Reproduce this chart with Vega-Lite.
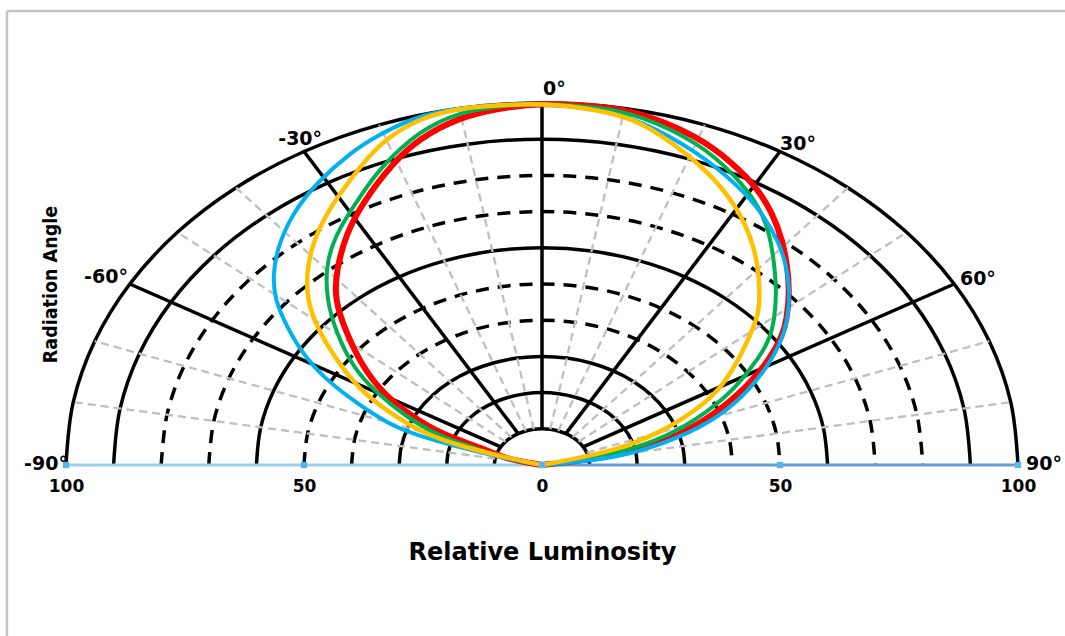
{
  "$schema": "https://vega.github.io/schema/vega-lite/v6.json",
  "width": 952,
  "height": 362,
  "autosize": {"type": "none"},
  "padding": {"left": 66, "top": 103, "right": 47, "bottom": 171},
  "background": "white",
  "config": {
    "view": {"stroke": null},
    "axis": {"grid": false, "domain": false, "ticks": false, "labelColor": "black", "titleColor": "black"},
    "axisX": {"labelFont": "DejaVu Sans", "labelFontWeight": "bold", "labelFontSize": 17, "labelPadding": 13, "labelFlush": false,
      "titleFont": "DejaVu Sans", "titleFontSize": 24, "titleFontWeight": "bold", "titlePadding": 46},
    "axisY": {"labels": false, "titleFont": "Liberation Sans Narrow, DejaVu Sans Condensed, sans-serif", "titleFontSize": 19.5, "titleFontWeight": "bold", "titlePadding": 6}
  },
  "datasets": {
    "gridSolid": [
      {"c":100,"k":0,"x":-100,"y":0},{"c":100,"k":1,"x":-98.48,"y":17.36},{"c":100,"k":2,"x":-93.97,"y":34.2},{"c":100,"k":3,"x":-86.6,"y":50},{"c":100,"k":4,"x":-76.6,"y":64.28},{"c":100,"k":5,"x":-64.28,"y":76.6},{"c":100,"k":6,"x":-50,"y":86.6},{"c":100,"k":7,"x":-34.2,"y":93.97},{"c":100,"k":8,"x":-17.36,"y":98.48},{"c":100,"k":9,"x":0,"y":100},{"c":100,"k":10,"x":17.36,"y":98.48},{"c":100,"k":11,"x":34.2,"y":93.97},{"c":100,"k":12,"x":50,"y":86.6},{"c":100,"k":13,"x":64.28,"y":76.6},{"c":100,"k":14,"x":76.6,"y":64.28},{"c":100,"k":15,"x":86.6,"y":50},{"c":100,"k":16,"x":93.97,"y":34.2},{"c":100,"k":17,"x":98.48,"y":17.36},{"c":100,"k":18,"x":100,"y":0},
      {"c":90,"k":0,"x":-90,"y":0},{"c":90,"k":1,"x":-88.63,"y":15.63},{"c":90,"k":2,"x":-84.57,"y":30.78},{"c":90,"k":3,"x":-77.94,"y":45},{"c":90,"k":4,"x":-68.94,"y":57.85},{"c":90,"k":5,"x":-57.85,"y":68.94},{"c":90,"k":6,"x":-45,"y":77.94},{"c":90,"k":7,"x":-30.78,"y":84.57},{"c":90,"k":8,"x":-15.63,"y":88.63},{"c":90,"k":9,"x":0,"y":90},{"c":90,"k":10,"x":15.63,"y":88.63},{"c":90,"k":11,"x":30.78,"y":84.57},{"c":90,"k":12,"x":45,"y":77.94},{"c":90,"k":13,"x":57.85,"y":68.94},{"c":90,"k":14,"x":68.94,"y":57.85},{"c":90,"k":15,"x":77.94,"y":45},{"c":90,"k":16,"x":84.57,"y":30.78},{"c":90,"k":17,"x":88.63,"y":15.63},{"c":90,"k":18,"x":90,"y":0},
      {"c":60,"k":0,"x":-60,"y":0},{"c":60,"k":1,"x":-59.09,"y":10.42},{"c":60,"k":2,"x":-56.38,"y":20.52},{"c":60,"k":3,"x":-51.96,"y":30},{"c":60,"k":4,"x":-45.96,"y":38.57},{"c":60,"k":5,"x":-38.57,"y":45.96},{"c":60,"k":6,"x":-30,"y":51.96},{"c":60,"k":7,"x":-20.52,"y":56.38},{"c":60,"k":8,"x":-10.42,"y":59.09},{"c":60,"k":9,"x":0,"y":60},{"c":60,"k":10,"x":10.42,"y":59.09},{"c":60,"k":11,"x":20.52,"y":56.38},{"c":60,"k":12,"x":30,"y":51.96},{"c":60,"k":13,"x":38.57,"y":45.96},{"c":60,"k":14,"x":45.96,"y":38.57},{"c":60,"k":15,"x":51.96,"y":30},{"c":60,"k":16,"x":56.38,"y":20.52},{"c":60,"k":17,"x":59.09,"y":10.42},{"c":60,"k":18,"x":60,"y":0},
      {"c":30,"k":0,"x":-30,"y":0},{"c":30,"k":1,"x":-29.54,"y":5.21},{"c":30,"k":2,"x":-28.19,"y":10.26},{"c":30,"k":3,"x":-25.98,"y":15},{"c":30,"k":4,"x":-22.98,"y":19.28},{"c":30,"k":5,"x":-19.28,"y":22.98},{"c":30,"k":6,"x":-15,"y":25.98},{"c":30,"k":7,"x":-10.26,"y":28.19},{"c":30,"k":8,"x":-5.21,"y":29.54},{"c":30,"k":9,"x":0,"y":30},{"c":30,"k":10,"x":5.21,"y":29.54},{"c":30,"k":11,"x":10.26,"y":28.19},{"c":30,"k":12,"x":15,"y":25.98},{"c":30,"k":13,"x":19.28,"y":22.98},{"c":30,"k":14,"x":22.98,"y":19.28},{"c":30,"k":15,"x":25.98,"y":15},{"c":30,"k":16,"x":28.19,"y":10.26},{"c":30,"k":17,"x":29.54,"y":5.21},{"c":30,"k":18,"x":30,"y":0},
      {"c":20,"k":0,"x":-20,"y":0},{"c":20,"k":1,"x":-19.7,"y":3.47},{"c":20,"k":2,"x":-18.79,"y":6.84},{"c":20,"k":3,"x":-17.32,"y":10},{"c":20,"k":4,"x":-15.32,"y":12.86},{"c":20,"k":5,"x":-12.86,"y":15.32},{"c":20,"k":6,"x":-10,"y":17.32},{"c":20,"k":7,"x":-6.84,"y":18.79},{"c":20,"k":8,"x":-3.47,"y":19.7},{"c":20,"k":9,"x":0,"y":20},{"c":20,"k":10,"x":3.47,"y":19.7},{"c":20,"k":11,"x":6.84,"y":18.79},{"c":20,"k":12,"x":10,"y":17.32},{"c":20,"k":13,"x":12.86,"y":15.32},{"c":20,"k":14,"x":15.32,"y":12.86},{"c":20,"k":15,"x":17.32,"y":10},{"c":20,"k":16,"x":18.79,"y":6.84},{"c":20,"k":17,"x":19.7,"y":3.47},{"c":20,"k":18,"x":20,"y":0},
      {"c":10,"k":0,"x":-10,"y":0},{"c":10,"k":1,"x":-9.85,"y":1.74},{"c":10,"k":2,"x":-9.4,"y":3.42},{"c":10,"k":3,"x":-8.66,"y":5},{"c":10,"k":4,"x":-7.66,"y":6.43},{"c":10,"k":5,"x":-6.43,"y":7.66},{"c":10,"k":6,"x":-5,"y":8.66},{"c":10,"k":7,"x":-3.42,"y":9.4},{"c":10,"k":8,"x":-1.74,"y":9.85},{"c":10,"k":9,"x":0,"y":10},{"c":10,"k":10,"x":1.74,"y":9.85},{"c":10,"k":11,"x":3.42,"y":9.4},{"c":10,"k":12,"x":5,"y":8.66},{"c":10,"k":13,"x":6.43,"y":7.66},{"c":10,"k":14,"x":7.66,"y":6.43},{"c":10,"k":15,"x":8.66,"y":5},{"c":10,"k":16,"x":9.4,"y":3.42},{"c":10,"k":17,"x":9.85,"y":1.74},{"c":10,"k":18,"x":10,"y":0}
    ],
    "gridDashed": [
      {"c":80,"k":0,"x":-80,"y":0},{"c":80,"k":1,"x":-78.78,"y":13.89},{"c":80,"k":2,"x":-75.18,"y":27.36},{"c":80,"k":3,"x":-69.28,"y":40},{"c":80,"k":4,"x":-61.28,"y":51.42},{"c":80,"k":5,"x":-51.42,"y":61.28},{"c":80,"k":6,"x":-40,"y":69.28},{"c":80,"k":7,"x":-27.36,"y":75.18},{"c":80,"k":8,"x":-13.89,"y":78.78},{"c":80,"k":9,"x":0,"y":80},{"c":80,"k":10,"x":13.89,"y":78.78},{"c":80,"k":11,"x":27.36,"y":75.18},{"c":80,"k":12,"x":40,"y":69.28},{"c":80,"k":13,"x":51.42,"y":61.28},{"c":80,"k":14,"x":61.28,"y":51.42},{"c":80,"k":15,"x":69.28,"y":40},{"c":80,"k":16,"x":75.18,"y":27.36},{"c":80,"k":17,"x":78.78,"y":13.89},{"c":80,"k":18,"x":80,"y":0},
      {"c":70,"k":0,"x":-70,"y":0},{"c":70,"k":1,"x":-68.94,"y":12.16},{"c":70,"k":2,"x":-65.78,"y":23.94},{"c":70,"k":3,"x":-60.62,"y":35},{"c":70,"k":4,"x":-53.62,"y":45},{"c":70,"k":5,"x":-45,"y":53.62},{"c":70,"k":6,"x":-35,"y":60.62},{"c":70,"k":7,"x":-23.94,"y":65.78},{"c":70,"k":8,"x":-12.16,"y":68.94},{"c":70,"k":9,"x":0,"y":70},{"c":70,"k":10,"x":12.16,"y":68.94},{"c":70,"k":11,"x":23.94,"y":65.78},{"c":70,"k":12,"x":35,"y":60.62},{"c":70,"k":13,"x":45,"y":53.62},{"c":70,"k":14,"x":53.62,"y":45},{"c":70,"k":15,"x":60.62,"y":35},{"c":70,"k":16,"x":65.78,"y":23.94},{"c":70,"k":17,"x":68.94,"y":12.16},{"c":70,"k":18,"x":70,"y":0},
      {"c":50,"k":0,"x":-50,"y":0},{"c":50,"k":1,"x":-49.24,"y":8.68},{"c":50,"k":2,"x":-46.98,"y":17.1},{"c":50,"k":3,"x":-43.3,"y":25},{"c":50,"k":4,"x":-38.3,"y":32.14},{"c":50,"k":5,"x":-32.14,"y":38.3},{"c":50,"k":6,"x":-25,"y":43.3},{"c":50,"k":7,"x":-17.1,"y":46.98},{"c":50,"k":8,"x":-8.68,"y":49.24},{"c":50,"k":9,"x":0,"y":50},{"c":50,"k":10,"x":8.68,"y":49.24},{"c":50,"k":11,"x":17.1,"y":46.98},{"c":50,"k":12,"x":25,"y":43.3},{"c":50,"k":13,"x":32.14,"y":38.3},{"c":50,"k":14,"x":38.3,"y":32.14},{"c":50,"k":15,"x":43.3,"y":25},{"c":50,"k":16,"x":46.98,"y":17.1},{"c":50,"k":17,"x":49.24,"y":8.68},{"c":50,"k":18,"x":50,"y":0},
      {"c":40,"k":0,"x":-40,"y":0},{"c":40,"k":1,"x":-39.39,"y":6.95},{"c":40,"k":2,"x":-37.59,"y":13.68},{"c":40,"k":3,"x":-34.64,"y":20},{"c":40,"k":4,"x":-30.64,"y":25.71},{"c":40,"k":5,"x":-25.71,"y":30.64},{"c":40,"k":6,"x":-20,"y":34.64},{"c":40,"k":7,"x":-13.68,"y":37.59},{"c":40,"k":8,"x":-6.95,"y":39.39},{"c":40,"k":9,"x":0,"y":40},{"c":40,"k":10,"x":6.95,"y":39.39},{"c":40,"k":11,"x":13.68,"y":37.59},{"c":40,"k":12,"x":20,"y":34.64},{"c":40,"k":13,"x":25.71,"y":30.64},{"c":40,"k":14,"x":30.64,"y":25.71},{"c":40,"k":15,"x":34.64,"y":20},{"c":40,"k":16,"x":37.59,"y":13.68},{"c":40,"k":17,"x":39.39,"y":6.95},{"c":40,"k":18,"x":40,"y":0}
    ],
    "spokesSolid": [
      {"a":-60,"x":-8.66,"y":5,"x2":-86.6,"y2":50},
      {"a":-30,"x":-5,"y":8.66,"x2":-50,"y2":86.6},
      {"a":0,"x":0,"y":10,"x2":0,"y2":100},
      {"a":30,"x":5,"y":8.66,"x2":50,"y2":86.6},
      {"a":60,"x":8.66,"y":5,"x2":86.6,"y2":50}
    ],
    "spokesGray": [
      {"a":-80,"x":-9.85,"y":1.74,"x2":-98.48,"y2":17.36},
      {"a":-70,"x":-9.4,"y":3.42,"x2":-93.97,"y2":34.2},
      {"a":-50,"x":-7.66,"y":6.43,"x2":-76.6,"y2":64.28},
      {"a":-40,"x":-6.43,"y":7.66,"x2":-64.28,"y2":76.6},
      {"a":-20,"x":-3.42,"y":9.4,"x2":-34.2,"y2":93.97},
      {"a":-10,"x":-1.74,"y":9.85,"x2":-17.36,"y2":98.48},
      {"a":10,"x":1.74,"y":9.85,"x2":17.36,"y2":98.48},
      {"a":20,"x":3.42,"y":9.4,"x2":34.2,"y2":93.97},
      {"a":40,"x":6.43,"y":7.66,"x2":64.28,"y2":76.6},
      {"a":50,"x":7.66,"y":6.43,"x2":76.6,"y2":64.28},
      {"a":70,"x":9.4,"y":3.42,"x2":93.97,"y2":34.2},
      {"a":80,"x":9.85,"y":1.74,"x2":98.48,"y2":17.36}
    ],
    "frame": [
      {"x":-112.4,"y":125.4,"x2":-112.4,"y2":-50},
      {"x":-112.4,"y":125.4,"x2":115,"y2":125.4}
    ],
    "baseline": [
      {"side":"left","x":-100,"x2":0,"y":0},
      {"side":"right","x":0,"x2":100,"y":0}
    ],
    "ticks": [
      {"x":-100,"y":0},{"x":-50,"y":0},{"x":0,"y":0},{"x":50,"y":0},{"x":100,"y":0}
    ],
    "labelsLeft": [
      {"t":"0°","x":0.2,"y":102.2},
      {"t":"30°","x":50,"y":87},
      {"t":"60°","x":87.8,"y":49.7},
      {"t":"90°","x":101.7,"y":-1.4}
    ],
    "labelsRight": [
      {"t":"-30°","x":-46.2,"y":88.4},
      {"t":"-60°","x":-87,"y":50.3},
      {"t":"-90°","x":-99.6,"y":-1.4}
    ],
    "red": [
      {"i":0,"x":0,"y":0},{"i":1,"x":-7.9,"y":1.7},{"i":2,"x":-12.5,"y":4.7},{"i":3,"x":-20.9,"y":8.3},{"i":4,"x":-27.8,"y":13.8},{"i":5,"x":-33.5,"y":19.9},{"i":6,"x":-37.7,"y":27.1},{"i":7,"x":-41.1,"y":36.5},{"i":8,"x":-43.6,"y":45.6},{"i":9,"x":-43.2,"y":53.9},{"i":10,"x":-41.1,"y":64.1},{"i":11,"x":-37.7,"y":72.4},{"i":12,"x":-31.4,"y":83.4},{"i":13,"x":-25.7,"y":90.3},{"i":14,"x":-17.3,"y":96.1},{"i":15,"x":-8.9,"y":98.6},{"i":16,"x":0,"y":100},{"i":17,"x":12.1,"y":99.2},{"i":18,"x":20.5,"y":97.5},{"i":19,"x":33.1,"y":90.6},{"i":20,"x":40.0,"y":83.4},{"i":21,"x":45.1,"y":76.8},{"i":22,"x":48.4,"y":69.6},{"i":23,"x":50.5,"y":62.2},{"i":24,"x":51.6,"y":54.7},{"i":25,"x":52.0,"y":47.5},{"i":26,"x":51.4,"y":40.1},{"i":27,"x":50.6,"y":36.0},{"i":28,"x":47.8,"y":29.0},{"i":29,"x":43.0,"y":21.5},{"i":30,"x":36.7,"y":14.4},{"i":31,"x":28.3,"y":7.7},{"i":32,"x":17.8,"y":3.3},{"i":33,"x":7.9,"y":1.1},{"i":34,"x":0,"y":0}
    ],
    "green": [
      {"i":0,"x":0,"y":0},{"i":1,"x":-7.9,"y":1.7},{"i":2,"x":-12.5,"y":4.1},{"i":3,"x":-21.5,"y":7.7},{"i":4,"x":-28.5,"y":13.3},{"i":5,"x":-34.8,"y":19.9},{"i":6,"x":-39.8,"y":27.1},{"i":7,"x":-43.2,"y":36.5},{"i":8,"x":-45.3,"y":45.6},{"i":9,"x":-45.4,"y":56.6},{"i":10,"x":-42.5,"y":65.7},{"i":11,"x":-38.3,"y":74.0},{"i":12,"x":-34.1,"y":82.0},{"i":13,"x":-25.7,"y":92.5},{"i":14,"x":-17.3,"y":97.5},{"i":15,"x":-8.9,"y":99.2},{"i":16,"x":0,"y":100},{"i":17,"x":12.1,"y":98.9},{"i":18,"x":20.5,"y":96.7},{"i":19,"x":33.1,"y":89.0},{"i":20,"x":40.9,"y":79.6},{"i":21,"x":45.7,"y":71.3},{"i":22,"x":47.8,"y":64.1},{"i":23,"x":48.8,"y":55.8},{"i":24,"x":49.3,"y":47.5},{"i":25,"x":48.8,"y":40.1},{"i":26,"x":47.9,"y":35.0},{"i":27,"x":45.7,"y":29.8},{"i":28,"x":40.9,"y":21.5},{"i":29,"x":34.6,"y":14.4},{"i":30,"x":26.2,"y":7.7},{"i":31,"x":16.9,"y":3.6},{"i":32,"x":7.9,"y":1.1},{"i":33,"x":0,"y":0}
    ],
    "blue": [
      {"i":0,"x":0,"y":0},{"i":1,"x":-5.8,"y":1.4},{"i":2,"x":-12.5,"y":3.3},{"i":3,"x":-23.0,"y":6.9},{"i":4,"x":-31.4,"y":10.5},{"i":5,"x":-39.0,"y":17.1},{"i":6,"x":-46.1,"y":24.3},{"i":7,"x":-50.9,"y":31.8},{"i":8,"x":-54.3,"y":40.1},{"i":9,"x":-56.0,"y":45.6},{"i":10,"x":-56.6,"y":51.9},{"i":11,"x":-55.6,"y":60.2},{"i":12,"x":-52.4,"y":69.6},{"i":13,"x":-47.4,"y":77.9},{"i":14,"x":-40.4,"y":86.2},{"i":15,"x":-34.1,"y":91.4},{"i":16,"x":-25.7,"y":96.7},{"i":17,"x":-17.3,"y":98.6},{"i":18,"x":-8.9,"y":99.4},{"i":19,"x":0,"y":100},{"i":20,"x":12.1,"y":98.3},{"i":21,"x":20.5,"y":95.3},{"i":22,"x":33.1,"y":86.2},{"i":23,"x":41.5,"y":76.8},{"i":24,"x":46.3,"y":69.6},{"i":25,"x":49.9,"y":61.3},{"i":26,"x":51.4,"y":54.7},{"i":27,"x":52.0,"y":48.3},{"i":28,"x":51.8,"y":42.8},{"i":29,"x":51.2,"y":37.3},{"i":30,"x":48.4,"y":29.0},{"i":31,"x":43.6,"y":20.7},{"i":32,"x":37.3,"y":13.3},{"i":33,"x":28.9,"y":7.5},{"i":34,"x":18.4,"y":2.8},{"i":35,"x":7.9,"y":0.8},{"i":36,"x":0,"y":0}
    ],
    "yellow": [
      {"i":0,"x":0,"y":0},{"i":1,"x":-5.4,"y":1.4},{"i":2,"x":-16.7,"y":5.0},{"i":3,"x":-25.1,"y":8.8},{"i":4,"x":-32.0,"y":14.4},{"i":5,"x":-38.3,"y":20.7},{"i":6,"x":-43.2,"y":29.0},{"i":7,"x":-47.4,"y":38.1},{"i":8,"x":-49.3,"y":45.6},{"i":9,"x":-49.5,"y":53.0},{"i":10,"x":-48.2,"y":61.3},{"i":11,"x":-45.3,"y":69.6},{"i":12,"x":-40.4,"y":78.7},{"i":13,"x":-34.1,"y":89.2},{"i":14,"x":-25.7,"y":95.9},{"i":15,"x":-17.3,"y":98.6},{"i":16,"x":-8.9,"y":99.4},{"i":17,"x":0,"y":100},{"i":18,"x":12.1,"y":98.1},{"i":19,"x":20.5,"y":95.3},{"i":20,"x":31.0,"y":85.6},{"i":21,"x":37.9,"y":76.8},{"i":22,"x":42.1,"y":68.5},{"i":23,"x":44.6,"y":60.2},{"i":24,"x":45.7,"y":51.9},{"i":25,"x":45.7,"y":43.6},{"i":26,"x":45.1,"y":40.1},{"i":27,"x":42.1,"y":30.9},{"i":28,"x":37.9,"y":21.5},{"i":29,"x":32.5,"y":15.2},{"i":30,"x":24.7,"y":8.8},{"i":31,"x":15.7,"y":4.1},{"i":32,"x":5.8,"y":1.4},{"i":33,"x":0,"y":0}
    ]
  },
  "layer": [
    {
      "data": {"name": "gridSolid"},
      "mark": {"type": "line", "color": "black", "strokeWidth": 3.5, "interpolate": "catmull-rom"},
      "encoding": {
        "x": {"field": "x", "type": "quantitative",
          "scale": {"domain": [-100, 100], "nice": false, "zero": false},
          "axis": {"values": [-100, -50, 0, 50, 100], "labelExpr": "abs(datum.value)", "title": "Relative Luminosity"}},
        "y": {"field": "y", "type": "quantitative",
          "scale": {"domain": [0, 100], "nice": false, "zero": false},
          "axis": {"title": "Radiation Angle"}},
        "detail": {"field": "c"},
        "order": {"field": "k", "type": "quantitative"}
      }
    },
    {
      "data": {"name": "gridDashed"},
      "mark": {"type": "line", "color": "black", "strokeWidth": 3.5, "strokeDash": [13, 9], "interpolate": "catmull-rom"},
      "encoding": {
        "x": {"field": "x", "type": "quantitative"},
        "y": {"field": "y", "type": "quantitative"},
        "detail": {"field": "c"},
        "order": {"field": "k", "type": "quantitative"}
      }
    },
    {
      "data": {"name": "spokesGray"},
      "mark": {"type": "rule", "color": "#bfbfbf", "strokeWidth": 2.3, "strokeDash": [8, 5]},
      "encoding": {
        "x": {"field": "x", "type": "quantitative"},
        "y": {"field": "y", "type": "quantitative"},
        "x2": {"field": "x2"},
        "y2": {"field": "y2"}
      }
    },
    {
      "data": {"name": "spokesSolid"},
      "mark": {"type": "rule", "color": "black", "strokeWidth": 3.5},
      "encoding": {
        "x": {"field": "x", "type": "quantitative"},
        "y": {"field": "y", "type": "quantitative"},
        "x2": {"field": "x2"},
        "y2": {"field": "y2"}
      }
    },
    {
      "data": {"name": "frame"},
      "mark": {"type": "rule", "color": "#c4c4c4", "strokeWidth": 2.5},
      "encoding": {
        "x": {"field": "x", "type": "quantitative"},
        "y": {"field": "y", "type": "quantitative"},
        "x2": {"field": "x2"},
        "y2": {"field": "y2"}
      }
    },
    {
      "data": {"name": "baseline"},
      "mark": {"type": "rule", "strokeWidth": 3},
      "encoding": {
        "x": {"field": "x", "type": "quantitative"},
        "x2": {"field": "x2"},
        "y": {"field": "y", "type": "quantitative"},
        "color": {"field": "side", "type": "nominal", "legend": null,
          "scale": {"domain": ["left", "right"], "range": ["#9ccfee", "#6a9bd3"]}}
      }
    },
    {
      "data": {"name": "red"},
      "mark": {"type": "line", "color": "#ff0000", "strokeWidth": 6, "interpolate": "basis", "strokeJoin": "round"},
      "encoding": {
        "x": {"field": "x", "type": "quantitative"},
        "y": {"field": "y", "type": "quantitative"},
        "order": {"field": "i", "type": "quantitative"}
      }
    },
    {
      "data": {"name": "green"},
      "mark": {"type": "line", "color": "#00b050", "strokeWidth": 4, "interpolate": "basis", "strokeJoin": "round"},
      "encoding": {
        "x": {"field": "x", "type": "quantitative"},
        "y": {"field": "y", "type": "quantitative"},
        "order": {"field": "i", "type": "quantitative"}
      }
    },
    {
      "data": {"name": "blue"},
      "mark": {"type": "line", "color": "#00b0f0", "strokeWidth": 4, "interpolate": "basis", "strokeJoin": "round"},
      "encoding": {
        "x": {"field": "x", "type": "quantitative"},
        "y": {"field": "y", "type": "quantitative"},
        "order": {"field": "i", "type": "quantitative"}
      }
    },
    {
      "data": {"name": "yellow"},
      "mark": {"type": "line", "color": "#ffc000", "strokeWidth": 4.5, "interpolate": "basis", "strokeJoin": "round"},
      "encoding": {
        "x": {"field": "x", "type": "quantitative"},
        "y": {"field": "y", "type": "quantitative"},
        "order": {"field": "i", "type": "quantitative"}
      }
    },
    {
      "data": {"name": "ticks"},
      "mark": {"type": "square", "size": 40, "color": "#5bb4e8", "filled": true, "opacity": 1},
      "encoding": {
        "x": {"field": "x", "type": "quantitative"},
        "y": {"field": "y", "type": "quantitative"}
      }
    },
    {
      "data": {"name": "labelsLeft"},
      "mark": {"type": "text", "align": "left", "baseline": "alphabetic", "font": "DejaVu Sans", "fontWeight": "bold", "fontSize": 19, "color": "black"},
      "encoding": {
        "x": {"field": "x", "type": "quantitative"},
        "y": {"field": "y", "type": "quantitative"},
        "text": {"field": "t"}
      }
    },
    {
      "data": {"name": "labelsRight"},
      "mark": {"type": "text", "align": "right", "baseline": "alphabetic", "font": "DejaVu Sans", "fontWeight": "bold", "fontSize": 19, "color": "black"},
      "encoding": {
        "x": {"field": "x", "type": "quantitative"},
        "y": {"field": "y", "type": "quantitative"},
        "text": {"field": "t"}
      }
    }
  ]
}
